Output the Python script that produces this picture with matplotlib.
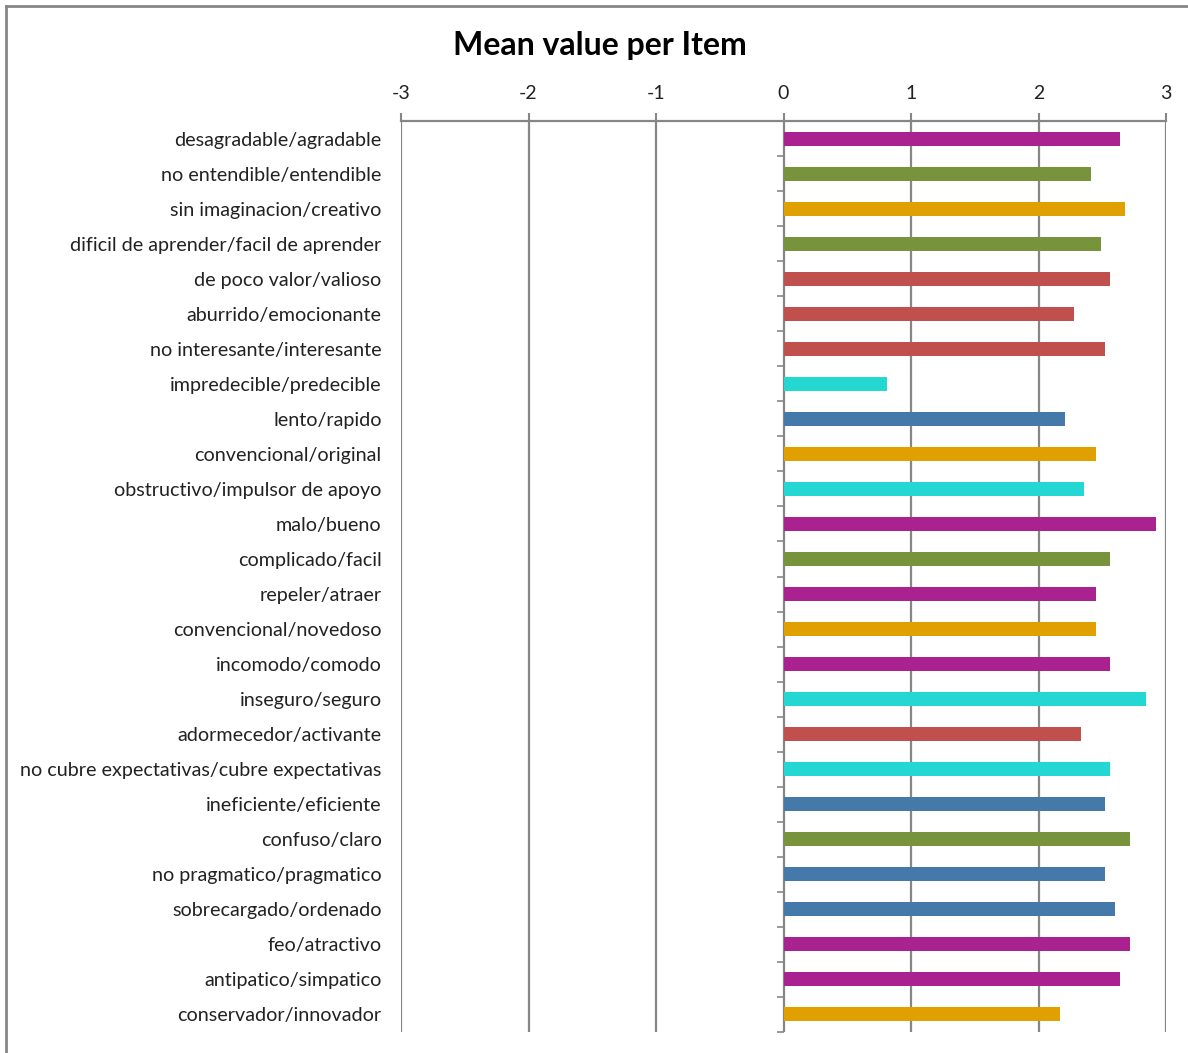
import numpy as np
import matplotlib.pyplot as plt
from matplotlib.lines import Line2D

# Itens (de cima para baixo) e valores medios
items = [
    "desagradable/agradable", "no entendible/entendible", "sin imaginacion/creativo",
    "dificil de aprender/facil de aprender", "de poco valor/valioso", "aburrido/emocionante",
    "no interesante/interesante", "impredecible/predecible", "lento/rapido",
    "convencional/original", "obstructivo/impulsor de apoyo", "malo/bueno",
    "complicado/facil", "repeler/atraer", "convencional/novedoso", "incomodo/comodo",
    "inseguro/seguro", "adormecedor/activante", "no cubre expectativas/cubre expectativas",
    "ineficiente/eficiente", "confuso/claro", "no pragmatico/pragmatico",
    "sobrecargado/ordenado", "feo/atractivo", "antipatico/simpatico", "conservador/innovador",
]
means = [2.64, 2.41, 2.68, 2.49, 2.56, 2.28, 2.52, 0.81, 2.21, 2.45, 2.36, 2.92, 2.56,
         2.45, 2.45, 2.56, 2.84, 2.33, 2.56, 2.52, 2.72, 2.52, 2.60, 2.72, 2.64, 2.17]
scales = ["atr", "per", "nov", "per", "sti", "sti", "sti", "dep", "eff", "nov", "dep", "atr",
          "per", "atr", "nov", "atr", "dep", "sti", "dep", "eff", "per", "eff", "eff", "atr",
          "atr", "nov"]
scale_colors = {"atr": "#AA2290", "per": "#77933C", "nov": "#E0A000",
                "sti": "#C0504D", "dep": "#25D7D3", "eff": "#4479AA"}
xticks = [-3, -2, -1, 0, 1, 2, 3]

plt.rcParams['font.family'] = ['Lato', 'DejaVu Sans']

W, H = 1188, 1053
fig = plt.figure(figsize=(W / 100, H / 100), dpi=100)
ax = fig.add_axes([401 / W, 1 - 1032 / H, (1166 - 401) / W, (1032 - 121) / H])

y = np.arange(len(items))
ax.barh(y, means, height=0.4, color=[scale_colors[s] for s in scales], zorder=3)

ax.set_xlim(-3, 3)
ax.set_ylim(len(items) - 0.5, -0.5)

# eixo x no topo
ax.xaxis.tick_top()
ax.set_xticks(xticks)
ax.set_xticklabels([str(t) for t in xticks])
ax.tick_params(axis='x', length=6, width=1.5, color='#868686', pad=8,
               labelsize=14, labelcolor='#222222')
ax.grid(axis='x', color='#868686', linewidth=1.6, zorder=1)

ax.set_yticks(y)
ax.set_yticklabels(items)
ax.tick_params(axis='y', length=0, pad=14, labelsize=14.2, labelcolor='#222222')

for side in ['left', 'right', 'bottom']:
    ax.spines[side].set_visible(False)
ax.spines['top'].set_color('#868686')
ax.spines['top'].set_linewidth(1.6)

# pequenos tracos entre categorias no eixo zero
bounds = np.arange(len(items) + 1) - 0.5
ax.plot(np.zeros(len(bounds)), bounds, linestyle='none', marker=0, markersize=5,
        markeredgewidth=1.2, color='#868686', zorder=2, clip_on=False)

fig.text(600 / W, 1 - 45 / H, "Mean value per Item", ha='center', va='center',
         fontsize=23, fontweight='bold', color='#000000')

# moldura externa
fig.add_artist(Line2D([6 / W, 6 / W], [0, 1 - 6 / H], color='#868686', linewidth=2))
fig.add_artist(Line2D([6 / W, 1], [1 - 6 / H, 1 - 6 / H], color='#868686', linewidth=2))

fig.savefig("out.png", dpi=100)
